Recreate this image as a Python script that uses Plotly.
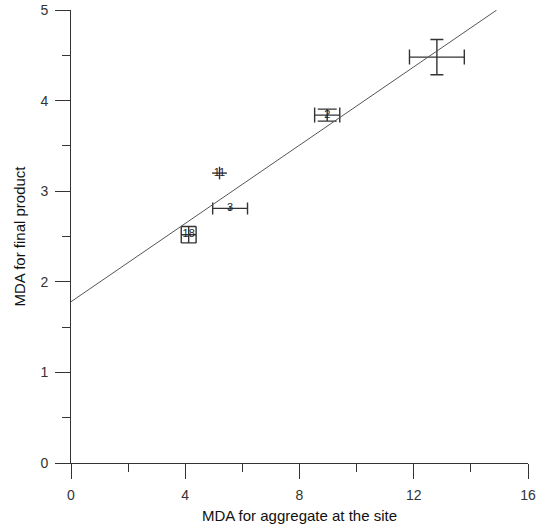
import plotly.graph_objects as go

# Data
labels = ["18", "3", "11", "2", ""]
x_vals = [4.12, 5.57, 5.20, 8.97, 12.81]
y_vals = [2.52, 2.81, 3.20, 3.84, 4.48]
x_err = [0.26, 0.61, 0.26, 0.44, 0.96]
y_err = [0.09, 0.02, 0.07, 0.066, 0.195]
x_cap = [8.3, 6, 0, 7.5, 7.5]
y_cap = [7.5, 0, 0, 9.5, 6.5]

fit_intercept = 1.78
fit_slope = 0.216
fit_x = [0.0, 14.9]

fig = go.Figure()

for lab, x, y, ex, ey, cx, cy in zip(labels, x_vals, y_vals, x_err, y_err, x_cap, y_cap):
    fig.add_trace(go.Scatter(
        x=[x], y=[y], mode="markers+text" if lab else "markers",
        marker=dict(size=1, color="rgba(0,0,0,0)"),
        text=[lab], textposition="middle center",
        textfont=dict(family="Liberation Sans, Arial", size=11, color="#222"),
        error_x=dict(type="data", array=[ex], visible=True, color="#333",
                     thickness=1.4, width=cx),
        error_y=dict(type="data", array=[ey], visible=ey > 0, color="#333",
                     thickness=1.4, width=cy),
        showlegend=False, cliponaxis=False,
    ))

fig.add_trace(go.Scatter(
    x=fit_x, y=[fit_intercept + fit_slope * v for v in fit_x],
    mode="lines", line=dict(color="#555", width=1),
    showlegend=False,
))

axis_common = dict(
    showgrid=False, zeroline=False, showline=True, linecolor="#333", linewidth=1,
    ticks="outside", ticklen=15, tickcolor="#333", tickwidth=1,
    tickfont=dict(family="Liberation Sans, Arial", size=14, color="#333"),
    mirror=False, ticklabelstandoff=4,
)

fig.update_xaxes(
    range=[0, 16], tickvals=[0, 4, 8, 12, 16],
    minor=dict(tickvals=[2, 6, 10, 14], ticklen=8, ticks="outside", tickcolor="#333"),
    title=dict(text="MDA for aggregate at the site", standoff=8,
               font=dict(family="Liberation Sans, Arial", size=15, color="#111")),
    **axis_common,
)
fig.update_yaxes(
    range=[0, 5], tickvals=[0, 1, 2, 3, 4, 5],
    minor=dict(tickvals=[0.5, 1.5, 2.5, 3.5, 4.5], ticklen=8, ticks="outside", tickcolor="#333"),
    title=dict(text="MDA for final product", standoff=11,
               font=dict(family="Liberation Sans, Arial", size=15, color="#111")),
    **axis_common,
)

fig.update_layout(
    width=540, height=528,
    margin=dict(l=71, r=12, t=10, b=65, autoexpand=False),
    plot_bgcolor="white", paper_bgcolor="white",
)

fig.write_html("out.html")
